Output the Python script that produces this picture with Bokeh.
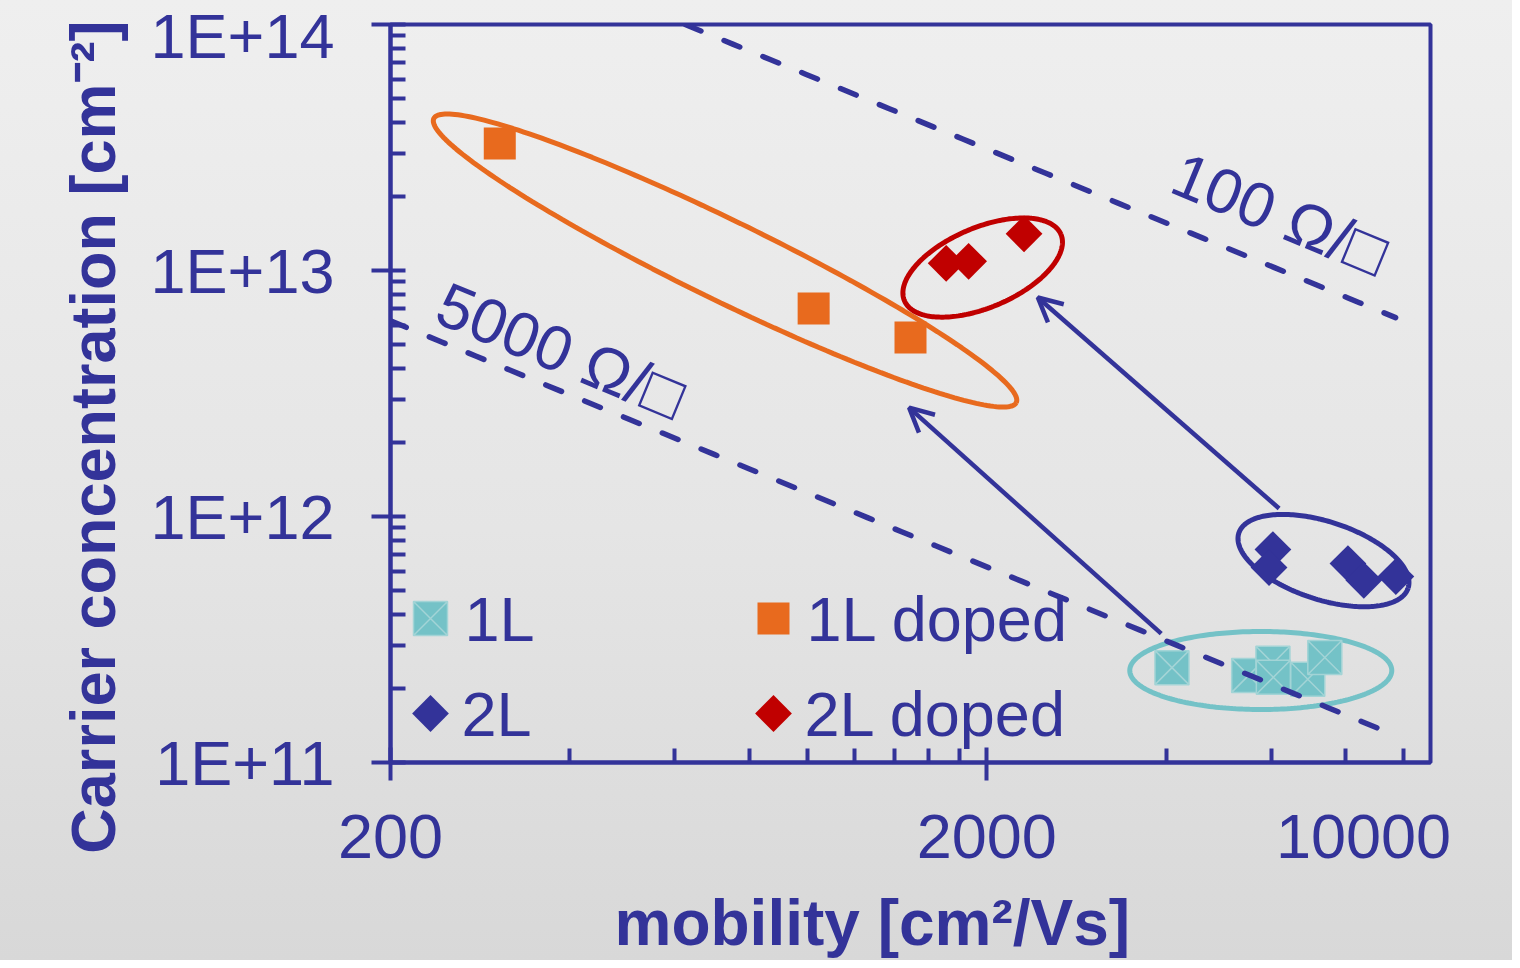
import numpy as np
from bokeh.plotting import figure
from bokeh.models import (Range1d, FixedTicker, CustomJSTickFormatter, Label,
                          Arrow, OpenHead, LogAxis, Title)
from bokeh.embed import file_html
from bokeh.resources import INLINE
from bokeh.core.properties import value

# ---------------- data ----------------
mob_1L = [4090, 5500, 6040, 6050, 6910, 7380]
n_1L = [2.43e11, 2.26e11, 2.53e11, 2.22e11, 2.18e11, 2.67e11]

mob_2L = [6040, 5950, 8070, 8580, 9710]
n_2L = [7.34e11, 6.2e11, 6.44e11, 5.5e11, 5.7e11]

mob_1L_doped = [305, 1025, 1490]
n_1L_doped = [3.28e13, 7.0e12, 5.34e12]

mob_2L_doped = [1710, 1865, 2310]
n_2L_doped = [1.07e13, 1.09e13, 1.41e13]

series_names = ["1L", "2L", "1L doped", "2L doped"]

# constant sheet-resistance lines  n = 1 / (e * R * mu)
sheet_R = [100, 5000]
sheet_labels = ["100 Ω/□", "5000 Ω/□"]
sheet_label_mob = [6200, 386]
sheet_label_n = [1.70e13, 4.73e12]
E_CHARGE = 1.602e-19

# group ellipses (centre in data units)
ell_mob = [728, 1969, 7342, 5763]
ell_n = [1.098e13, 1.028e13, 6.62e11, 2.366e11]

# arrows (undoped -> doped)
arrow_mob_start = [3924, 6186]
arrow_n_start = [3.34e11, 1.078e12]
arrow_mob_end = [1482, 2436]
arrow_n_end = [2.77e12, 7.77e12]

x_ticks = [200, 2000]
x_minor = [400, 600, 800, 1000, 1200, 1400, 1600, 1800, 4000, 6000, 8000, 10000]
x_tick_labels = ["200", "2000", "10000"]
x_label_values = [200, 2000, 10000]
y_ticks = [1e11, 1e12, 1e13, 1e14]
y_minor = [k * 10.0 ** e for e in (11, 12, 13) for k in range(2, 10)]

# ---------------- styling / layout ----------------
NAVY = "#333399"
TEAL = "#74C2C7"
TEAL_LINE = "#A3D4D6"
ORANGE = "#E86A1E"
RED = "#C00000"
FONT = "Liberation Sans"

W, H = 1512, 960
FL, FT, FR, FB = 390, 24, 1430, 762       # frame edges on the canvas
FW, FH = FR - FL, FB - FT
XMIN, XMAX = 200, 11100
YMIN, YMAX = 1e11, 1e14
PXX = FW / np.log10(XMAX / XMIN)           # pixels per decade
PXY = FH / np.log10(YMAX / YMIN)
LAST_LABEL_SHIFT_PX = -40                  # "10000" sits left of its tick


def px_to_data(px, py):
    x = 10 ** (np.log10(XMIN) + (px - FL) / PXX)
    y = 10 ** (np.log10(YMAX) - (py - FT) / PXY)
    return x, y


def ellipse(cx, cy, a, b, ang_deg):
    t = np.linspace(0, 2 * np.pi, 240)
    th = np.radians(ang_deg)
    u, v = a * np.cos(t), b * np.sin(t)
    dx = u * np.cos(th) - v * np.sin(th)
    dy = u * np.sin(th) + v * np.cos(th)
    return 10 ** (np.log10(cx) + dx / PXX), 10 ** (np.log10(cy) - dy / PXY)


p = figure(width=W, height=H, x_axis_type="log", y_axis_type="log",
           x_range=Range1d(XMIN, XMAX), y_range=Range1d(YMIN, YMAX),
           output_backend="svg", toolbar_location=None,
           min_border_left=FL, min_border_right=W - FR,
           min_border_top=FT, min_border_bottom=H - FB)
p.border_fill_color = None
p.background_fill_color = None
p.styles = {"background": "linear-gradient(180deg, #efefef 0%, #e5e5e5 55%, #d8d8d8 100%)"}
p.outline_line_color = NAVY
p.outline_line_width = 4
p.xgrid.visible = False
p.ygrid.visible = False

for ax in (p.xaxis[0], p.yaxis[0]):
    ax.axis_line_color = NAVY
    ax.axis_line_width = 4
    ax.major_tick_line_color = NAVY
    ax.major_tick_line_width = 4
    ax.minor_tick_line_color = NAVY
    ax.minor_tick_line_width = 4
    ax.major_label_text_color = NAVY
    ax.major_label_text_font = FONT
    ax.major_label_text_font_size = "63px"
    ax.minor_tick_out = 0

# main x axis: line and ticks only
p.xaxis.ticker = FixedTicker(ticks=x_ticks, minor_ticks=x_minor)
p.xaxis.formatter = CustomJSTickFormatter(code="return '';")
p.xaxis.major_label_text_font_size = "1px"
p.xaxis.major_label_standoff = 0
p.xaxis.major_tick_out = 18
p.xaxis.major_tick_in = 15
p.xaxis.minor_tick_in = 14

# x tick labels on a line-less axis just below (with a small spacer below it)
lab_pos = list(x_label_values)
lab_pos[-1] = x_label_values[-1] * 10 ** (LAST_LABEL_SHIFT_PX / PXX)
xlab_axis = LogAxis(ticker=FixedTicker(ticks=lab_pos, minor_ticks=[]),
                    formatter=CustomJSTickFormatter(args=dict(labels=x_tick_labels),
                                                    code="return labels[index];"),
                    axis_line_color=None, major_tick_line_color=None,
                    minor_tick_line_color=None, major_tick_in=0, major_tick_out=0,
                    minor_tick_in=0, minor_tick_out=0,
                    major_label_standoff=34, major_label_text_color=NAVY,
                    major_label_text_font=FONT, major_label_text_font_size="63px",
                    axis_label=" ", axis_label_text_font_size="1px",
                    axis_label_standoff=22)
p.add_layout(xlab_axis, "below")

p.yaxis.ticker = FixedTicker(ticks=y_ticks, minor_ticks=y_minor)
p.yaxis.formatter = CustomJSTickFormatter(code="return '1E+' + Math.round(Math.log10(tick));")
p.yaxis.major_tick_out = 19
p.yaxis.major_tick_in = 15
p.yaxis.minor_tick_in = 15
p.yaxis.major_label_standoff = 37

# axis titles
p.add_layout(Title(text="mobility [cm²/Vs]", align="left", offset=224,
                   vertical_align="top", standoff=0, text_color=NAVY,
                   text_font=FONT, text_font_size="64px", text_font_style="bold"),
             "below")
p.add_layout(Title(text="Carrier concentration [cm⁻²]", align="right", offset=-4,
                   vertical_align="bottom", standoff=40, text_color=NAVY,
                   text_font=FONT, text_font_size="63px", text_font_style="bold"),
             "left")

# ellipses
ell_geom = [(324, 40, 26), (85, 40, -23), (89, 39, 18), (131, 39, 0)]
ell_colors = [ORANGE, RED, NAVY, TEAL]
for cx, cy, (a, b, ang), col in zip(ell_mob, ell_n, ell_geom, ell_colors):
    ex, ey = ellipse(cx, cy, a, b, ang)
    p.line(ex, ey, line_color=col, line_width=5)

# markers
p.scatter(mob_1L, n_1L, marker="square_x", size=34, fill_color=TEAL,
          line_color=TEAL_LINE, line_width=1.5)
p.scatter(mob_1L_doped, n_1L_doped, marker="square", size=32,
          fill_color=ORANGE, line_color=ORANGE, line_width=0)
p.scatter(mob_2L, n_2L, marker="square", angle=np.pi / 4, size=26,
          fill_color=NAVY, line_color=NAVY, line_width=0)
p.scatter(mob_2L_doped, n_2L_doped, marker="square", angle=np.pi / 4, size=26,
          fill_color=RED, line_color=RED, line_width=0)

# sheet-resistance lines
for R in sheet_R:
    mu_start = max(XMIN, 1.0 / (E_CHARGE * R * YMAX))
    mu = np.geomspace(mu_start, 9700, 60)
    p.line(mu, 1.0 / (E_CHARGE * R * mu), line_color=NAVY, line_width=5.5,
           line_dash="17 25", line_cap="round")

ANG = -np.arctan(PXY / PXX)
for lab, lx, ly in zip(sheet_labels, sheet_label_mob, sheet_label_n):
    p.add_layout(Label(x=lx, y=ly, text=lab, angle=ANG, text_align="center",
                       text_baseline="middle", text_color=NAVY,
                       text_font=FONT, text_font_size="63px"))

# arrows
for xs, ys, xe, ye in zip(arrow_mob_start, arrow_n_start, arrow_mob_end, arrow_n_end):
    p.add_layout(Arrow(x_start=xs, y_start=ys, x_end=xe, y_end=ye,
                       line_color=NAVY, line_width=4.5,
                       end=OpenHead(size=24, line_color=NAVY, line_width=4.5)))

# legend (drawn manually, two columns)
leg_px = [(430, 618), (430, 713), (773, 618), (773, 713)]
leg_text_px = [464, 461, 806, 804]
leg_style = [dict(marker="square_x", size=34, fill_color=TEAL, line_color=TEAL_LINE, line_width=1.5),
             dict(marker="square", angle=np.pi / 4, size=26, fill_color=NAVY, line_color=NAVY, line_width=0),
             dict(marker="square", size=32, fill_color=ORANGE, line_color=ORANGE, line_width=0),
             dict(marker="square", angle=np.pi / 4, size=26, fill_color=RED, line_color=RED, line_width=0)]
for (mx, my), tx, st, name in zip(leg_px, leg_text_px, leg_style, series_names):
    dx, dy = px_to_data(mx, my)
    p.scatter([dx], [dy], **st)
    tdx, tdy = px_to_data(tx, my)
    p.add_layout(Label(x=tdx, y=tdy, text=name, text_align="left",
                       text_baseline="middle", text_color=NAVY,
                       text_font=FONT, text_font_size="63px"))

open("out.html", "w").write(file_html(p, INLINE))
